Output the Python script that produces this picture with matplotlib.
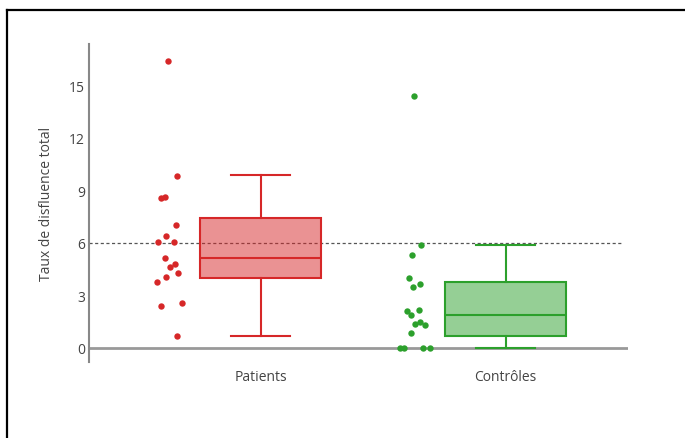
import numpy as np
import matplotlib
matplotlib.use("Agg")
import matplotlib.pyplot as plt
from matplotlib.lines import Line2D

plt.rcParams['font.family'] = ['Open Sans', 'DejaVu Sans']

categories = ['Patients', 'Contrôles']
colors = ['#d62728', '#2ca02c']

patients = [16.39, 9.83, 8.57, 8.63, 7.03, 6.41, 6.03, 6.03, 5.13, 4.77, 4.64,
            4.26, 4.03, 3.75, 2.57, 2.41, 0.67]
patients_jit = [-0.378, -0.339, -0.408, -0.391, -0.344, -0.384, -0.420, -0.352, -0.391,
                -0.348, -0.371, -0.336, -0.384, -0.422, -0.322, -0.405, -0.340]

controles = [14.39, 5.89, 5.31, 3.99, 3.67, 3.48, 2.19, 2.09, 1.86, 1.47, 1.37,
             1.29, 0.86, 0, 0, 0, 0]
controles_jit = [-0.373, -0.346, -0.382, -0.393, -0.350, -0.377, -0.354, -0.404, -0.384,
                 -0.351, -0.370, -0.329, -0.384, -0.429, -0.416, -0.335, -0.310]

# box stats
q1 = [3.99, 0.67]
med = [5.13, 1.86]
q3 = [7.42, 3.76]
wlo = [0.68, 0.0]
whi = [9.85, 5.89]

seuil = 6
yticks = [0, 3, 6, 9, 12, 15]

fig = plt.figure(figsize=(6.85, 4.39), dpi=100)
ax = fig.add_axes([89/685, 1 - 363/439, (628-89)/685, (363-45)/439])

ax.axhline(seuil, xmax=0.989, color='#555555', lw=0.9, ls=(0, (2.5, 2)), zorder=1)
ax.axhline(0, color='#999999', lw=2, zorder=1)

for i, (vals, jit) in enumerate([(patients, patients_jit), (controles, controles_jit)]):
    st = [dict(med=med[i], q1=q1[i], q3=q3[i], whislo=wlo[i], whishi=whi[i], fliers=[])]
    c = colors[i]
    ax.bxp(st, positions=[i], widths=0.49, capwidths=0.24, patch_artist=True,
           showfliers=False,
           boxprops=dict(facecolor=matplotlib.colors.to_rgba(c, 0.5), edgecolor=c, lw=1.5),
           medianprops=dict(color=c, lw=1.5),
           whiskerprops=dict(color=c, lw=1.5),
           capprops=dict(color=c, lw=1.5))
    ax.plot(np.array(jit) + i, vals, 'o', color=c, ms=4.6, mew=0, zorder=3)

ax.set_xlim(-0.7, 1.5)
ax.set_ylim(-0.8, 17.34)
ax.set_yticks(yticks)
ax.set_xticks([0, 1])
ax.set_xticklabels(categories)
ax.tick_params(axis='both', length=0, labelsize=10, colors='#444444')
ax.tick_params(axis='y', pad=3)
ax.tick_params(axis='x', pad=5)
for s in ['top', 'right', 'bottom']:
    ax.spines[s].set_visible(False)
ax.spines['left'].set_color('#888888')
ax.spines['left'].set_linewidth(1.5)
ax.set_ylabel('Taux de disfluence total', fontsize=10, color='#444444', labelpad=11)

# frame around the screenshot (left and top edges only)
fig.add_artist(Line2D([7/685, 7/685], [0, 1 - 11/439], color='black', lw=1.6))
fig.add_artist(Line2D([7/685, 1], [1 - 11/439, 1 - 11/439], color='black', lw=1.6))

fig.savefig('out.png', dpi=100)
